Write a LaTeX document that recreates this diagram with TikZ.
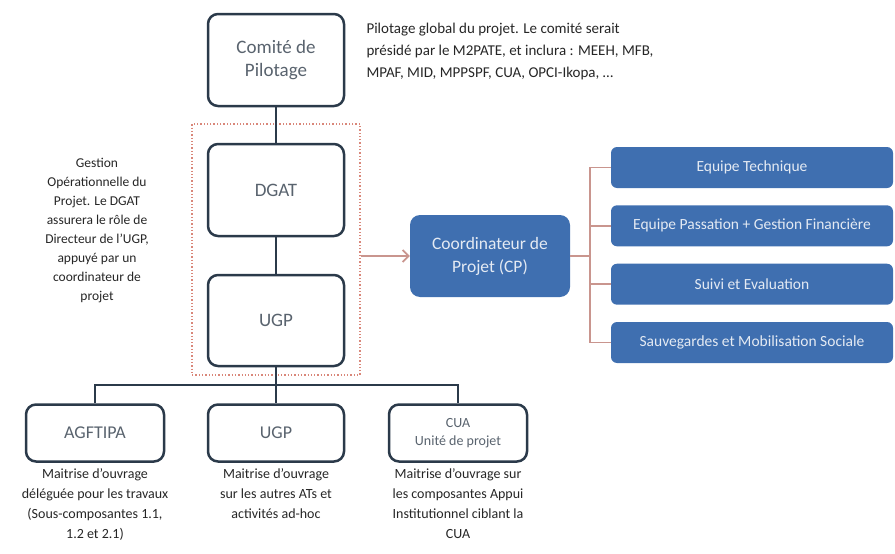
\documentclass[tikz,border=0pt]{standalone}
\usepackage{fontspec}
\setmainfont{Carlito}
\usetikzlibrary{arrows.meta,%
	positioning}
\definecolor{boxline}{HTML}{2B3A4A}
\definecolor{boxtext}{HTML}{59636E}
\definecolor{cpblue}{HTML}{3F6FB0}
\definecolor{cptext}{HTML}{E4EAF3}
\definecolor{linkred}{HTML}{C9958E}
\definecolor{dotred}{HTML}{D9877A}
\definecolor{notetext}{HTML}{262626}
\tikzset{
	orgbox/.style={draw=boxline, line width=2.5pt, rounded corners=10pt, fill=white, text=boxtext, align=center, minimum width=136pt},
	bluebox/.style={fill=cpblue, rounded corners=6pt, text=cptext, align=center, minimum width=282pt, minimum height=41pt, font=\fontsize{15.5}{18}\selectfont},
	note/.style={text=notetext, align=center},
	orgline/.style={draw=boxline, line width=2.5pt},
	link/.style={draw=linkred, line width=1.5pt}
}
\begin{document}
\begin{tikzpicture}[x=1pt, y=-1pt]
			\useasboundingbox (0,0) rectangle (895,554);
			% gestion operationnelle (DGAT + UGP)
			\node[draw=dotred, dotted, line width=1.3pt, minimum width=168pt, minimum height=251pt] (cellule) at (276,249.5) {};
			\node[orgbox, minimum height=92pt, font=\fontsize{19}{23}\selectfont] (comite) at (276,60) {Comité de\\Pilotage};
			\node[orgbox, minimum height=92pt, font=\fontsize{19}{23}\selectfont] (dgat) at (276,190) {DGAT};
			\node[orgbox, minimum height=91pt, font=\fontsize{19}{23}\selectfont] (ugp) at (276,320.5) {UGP};
			% maitrise d'ouvrage
			\node[orgbox, minimum width=138pt, minimum height=57pt, font=\fontsize{18}{22}\selectfont] (agftipa) at (95,433) {AGFTIPA};
			\node[orgbox, minimum height=57pt, font=\fontsize{18}{22}\selectfont] (ugpb) at (276,433) {UGP};
			\node[orgbox, minimum width=138pt, minimum height=57pt, font=\fontsize{14}{18}\selectfont] (cua) at (458,433) {CUA\\Unité de projet};
			% coordination
			\node[bluebox, minimum width=160pt, minimum height=82pt, rounded corners=10pt, font=\fontsize{17.5}{23}\selectfont] (cp) at (490,256) {Coordinateur de\\Projet (CP)};
			\node[bluebox] (eq1) at (752,167.5) {Equipe Technique};
			\node[bluebox] (eq2) at (752,225.8) {Equipe Passation + Gestion Financière};
			\node[bluebox] (eq3) at (752,284.2) {Suivi et Evaluation};
			\node[bluebox] (eq4) at (752,342.5) {Sauvegardes et Mobilisation Sociale};
			% notes
			\node[note, anchor=north west, align=left, font=\fontsize{15}{22}\selectfont] (pilnote) at (363,20) {Pilotage global du projet. Le comité serait\\présidé par le M2PATE, et inclura : MEEH, MFB,\\MPAF, MID, MPPSPF, CUA, OPCI-Ikopa, …};
			\node[note, font=\fontsize{13.5}{19}\selectfont] (dgatnote) at (97,230) {Gestion\\Opérationnelle du\\Projet. Le DGAT\\assurera le rôle de\\Directeur de l’UGP,\\appuyé par un\\coordinateur de\\projet};
			\node[note, below=2pt of agftipa, font=\fontsize{14}{20}\selectfont] (agfnote) {Maitrise d’ouvrage\\déléguée pour les travaux\\(Sous-composantes 1.1,\\1.2 et 2.1)};
			\node[note, below=2pt of ugpb, font=\fontsize{14}{20}\selectfont] (ugpnote) {Maitrise d’ouvrage\\sur les autres ATs et\\activités ad-hoc};
			\node[note, below=2pt of cua, font=\fontsize{14}{20}\selectfont] (cuanote) {Maitrise d’ouvrage sur\\les composantes Appui\\Institutionnel ciblant la\\CUA};
			% liens
			\coordinate (bus) at (276,385);
			\coordinate (brk) at (590,256);
			\draw[orgline] (comite) -- (dgat);
			\draw[orgline] (dgat) -- (ugp);
			\draw[orgline] (ugp) -- (ugpb);
			\draw[orgline] (agftipa.north) |- (bus) -| (cua.north);
			\draw[link, line width=1.8pt, -{Straight Barb[length=6pt, width=12pt]}] (cellule.east |- cp.west) -- (cp.west);
			\draw[link] (cp) -- (brk);
			\draw[link] (eq1) -| (brk) |- (eq4);
			\draw[link] (brk |- eq2) -- (eq2);
			\draw[link] (brk |- eq3) -- (eq3);
\end{tikzpicture}
\end{document}
